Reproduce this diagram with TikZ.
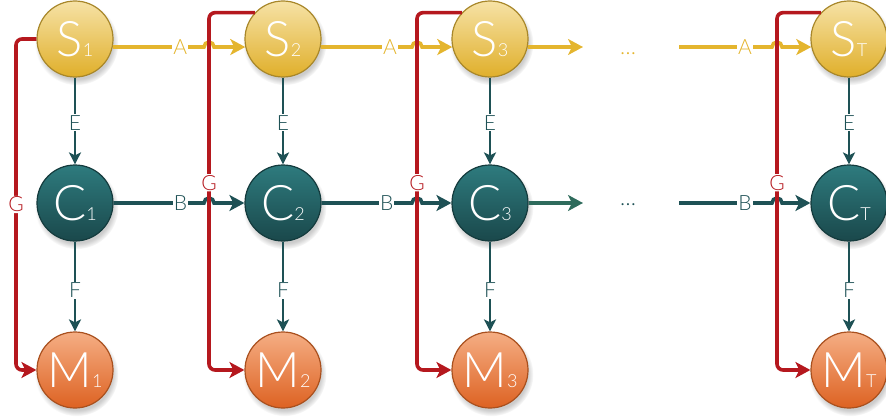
\documentclass[tikz,border=0pt]{standalone}
\usepackage{fontspec}
\setmainfont{Lato Light}
\usetikzlibrary{shadows,arrows.meta}
\definecolor{Stop}{HTML}{F6E2A6}
\definecolor{Sbot}{HTML}{E0AF2A}
\definecolor{Sbd}{HTML}{A8872A}
\definecolor{Ctop}{HTML}{2E7B7E}
\definecolor{Cbot}{HTML}{1A484B}
\definecolor{Cbd}{HTML}{143B3D}
\definecolor{Mtop}{HTML}{F5AE84}
\definecolor{Mbot}{HTML}{DD6222}
\definecolor{Mbd}{HTML}{A9501E}
\definecolor{Ycol}{HTML}{E4B52E}
\definecolor{Tcol}{HTML}{1E5155}
\definecolor{Gcol}{HTML}{2E6B5C}
\definecolor{Rcol}{HTML}{B5181E}
\newcommand\ndtxt[2]{{\fontsize{49}{49}\selectfont #1}{\fontsize{18}{18}\selectfont #2}}
\begin{document}
\begin{tikzpicture}[x=1pt,y=1pt,
  stnode/.style={circle,minimum size=76pt,inner sep=0pt,line width=1.2pt,text=white,
    circular drop shadow={shadow xshift=1.5pt,shadow yshift=-4pt,opacity=0.4}},
  snode/.style={stnode,draw=Sbd,top color=Stop,bottom color=Sbot},
  cnode/.style={stnode,draw=Cbd,top color=Ctop,bottom color=Cbot},
  mnode/.style={stnode,draw=Mbd,top color=Mtop,bottom color=Mbot},
  lab/.style={fill=white,inner sep=1pt,font=\fontsize{21}{21}\selectfont},
  bigtip/.style={-{Stealth[length=15pt,width=16pt,inset=4pt]}},
  aline/.style={draw=Ycol,line width=3.6pt,bigtip},
  bline/.style={draw=Tcol,line width=3.6pt,bigtip},
  gline/.style={draw=Rcol,line width=3.6pt,rounded corners=6pt,bigtip},
  efline/.style={draw=Tcol,line width=2pt,-{Stealth[length=12pt,width=12pt,inset=3pt]}},
  dots/.style={font=\fontsize{22}{22}\selectfont,inner sep=0pt,anchor=base},
  ]
\useasboundingbox (0,0) rectangle (886,416);
% nodes
\node[snode] (S1) at (75,377) {\ndtxt{S}{1}};
\node[snode] (S2) at (283,377) {\ndtxt{S}{2}};
\node[snode] (S3) at (490,377) {\ndtxt{S}{3}};
\node[snode] (ST) at (849,377) {\ndtxt{S}{T}};
\node[cnode] (C1) at (75,213) {\ndtxt{C}{1}};
\node[cnode] (C2) at (283,213) {\ndtxt{C}{2}};
\node[cnode] (C3) at (490,213) {\ndtxt{C}{3}};
\node[cnode] (CT) at (849,213) {\ndtxt{C}{T}};
\node[mnode] (M1) at (75,46) {\ndtxt{M}{1}};
\node[mnode] (M2) at (283,46) {\ndtxt{M}{2}};
\node[mnode] (M3) at (490,46) {\ndtxt{M}{3}};
\node[mnode] (MT) at (849,46) {\ndtxt{M}{T}};
% helper coordinates
\coordinate (v1) at (16,0);
\coordinate (v2) at (209,0);
\coordinate (v3) at (417,0);
\coordinate (vT) at (777,0);
\coordinate (h2) at (204,0);
\coordinate (h3) at (412,0);
\coordinate (hT) at (772,0);
\coordinate (a3e) at (583,369);
\coordinate (b3e) at (583,213);
\coordinate (aT0) at (679,369);
\coordinate (bT0) at (679,213);
% dots
\node[dots,text=Ycol] (d1) at (628,361) {…};
\node[dots,text=Tcol] (d2) at (628,211) {…};
% A lines
\draw[aline] (S1.-12) -- node[lab,text=Ycol,pos=0.74]{A} (h2 |- S2.192)
  arc[start angle=180,end angle=0,radius=5pt] -- (S2.192);
\draw[aline] (S2.-12) -- node[lab,text=Ycol,pos=0.76]{A} (h3 |- S3.192)
  arc[start angle=180,end angle=0,radius=5pt] -- (S3.192);
\draw[aline] (S3.-12) -- (a3e);
\draw[aline] (aT0) -- node[lab,text=Ycol,pos=0.71]{A} (hT |- ST.192)
  arc[start angle=180,end angle=0,radius=5pt] -- (ST.192);
% B lines
\draw[bline] (C1.east) -- node[lab,text=Tcol,pos=0.74]{B} (h2 |- C2.west)
  arc[start angle=180,end angle=0,radius=5pt] -- (C2.west);
\draw[bline] (C2.east) -- node[lab,text=Tcol,pos=0.72]{B} (h3 |- C3.west)
  arc[start angle=180,end angle=0,radius=5pt] -- (C3.west);
\draw[bline,draw=Gcol] (C3.east) -- (b3e);
\draw[bline] (bT0) -- node[lab,text=Tcol,pos=0.71]{B} (hT |- CT.west)
  arc[start angle=180,end angle=0,radius=5pt] -- (CT.west);
% E and F
\foreach \k in {1,2,3,T}{
  \draw[efline] (S\k.south) -- node[lab,text=Tcol,pos=0.52]{E} (C\k.north);
  \draw[efline] (C\k.south) -- node[lab,text=Tcol,pos=0.54]{F} (M\k.north);
}
% G lines
\draw[gline] (S1.west) -- (v1 |- S1.west) |- node[lab,text=Rcol,pos=0.25]{G} (M1.west);
\draw[gline] (S2.137) -- (v2 |- S2.137) |- node[lab,text=Rcol,pos=0.238]{G} (M2.west);
\draw[gline] (S3.137) -- (v3 |- S3.137) |- node[lab,text=Rcol,pos=0.238]{G} (M3.west);
\draw[gline] (ST.137) -- (vT |- ST.137) |- node[lab,text=Rcol,pos=0.238]{G} (MT.west);
\end{tikzpicture}
\end{document}
